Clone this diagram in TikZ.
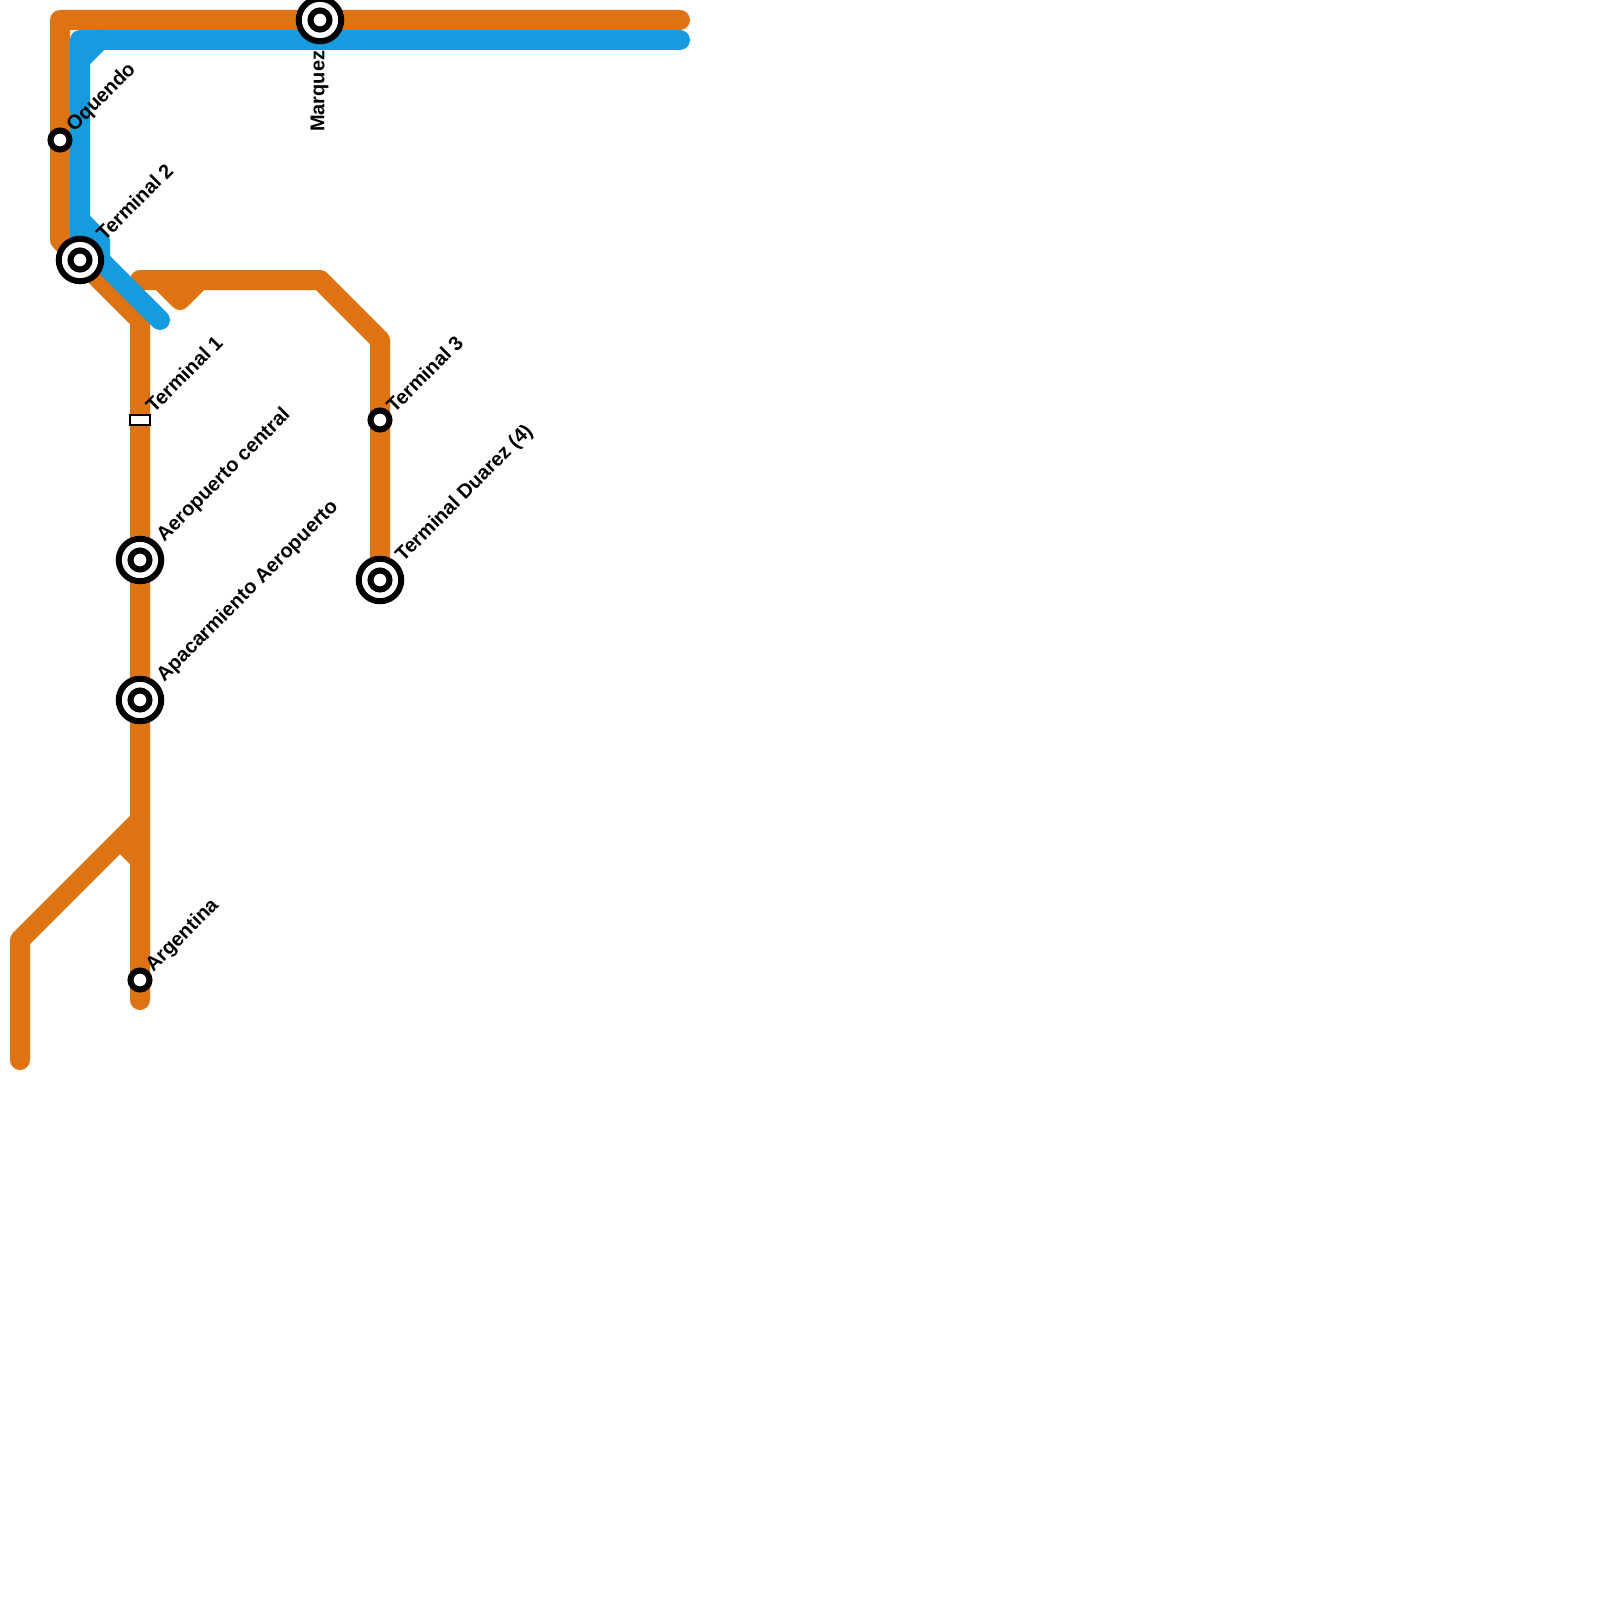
\documentclass[tikz,border=0pt]{standalone}
\usepackage{color}
\usepackage{fontspec}
\setmainfont{Liberation Sans}
\definecolor{lineorange}{HTML}{DD7312}
\definecolor{lineblue}{HTML}{169BDF}
\tikzset{
  orangeline/.style={draw=lineorange,line width=20pt,line cap=round,line join=round},
  blueline/.style={draw=lineblue,line width=20pt,line cap=round,line join=round},
  smallstop/.style={circle,draw=black,fill=white,line width=6pt,minimum size=19pt,inner sep=0pt,outer sep=0pt},
  bigstop/.style={circle,draw=black,fill=white,line width=6pt,minimum size=42.5pt,inner sep=0pt,outer sep=0pt},
  boxstop/.style={rectangle,draw=black,fill=white,line width=2pt,minimum width=20pt,minimum height=10pt,inner sep=0pt,outer sep=0pt},
  stoptext/.style={anchor=west,inner sep=0pt,font=\fontsize{20}{24}\selectfont\bfseries},
  stoplabel/.style={stoptext,rotate=45},
}
\begin{document}
\begin{tikzpicture}[x=1pt,y=-1pt]
\useasboundingbox (0,0) rectangle (1600,1600);
\fill[white] (0,0) rectangle (1600,1600);
% orange lines:
\path[orangeline] (680,20) -- (60,20) -- (60,240) -- (140,320) -- (140,1000);
\path[orangeline] (140,280) -- (320,280) -- (380,340) -- (380,580);
\path[orangeline] (160,280) -- (180,300) -- (200,280);
\path[orangeline] (20,1060) -- (20,940) -- (140,820);
\path[draw=lineorange,line width=20pt] (120,840) -- (140,860);
% blue line:
\path[blueline] (680,40) -- (80,40) -- (80,240) -- (160,320);
\path[blueline] (80,60) -- (100,40);
\path[draw=lineblue,line width=20pt,line join=round] (80,220) -- (100,240) -- (100,262);
% stops:
\node[smallstop] (oquendo) at (60,140) {};
\node[bigstop] (terminaltwo) at (80,260) {};
\node[smallstop] (terminaltwoinner) at (terminaltwo) {};
\node[bigstop] (marquez) at (320,20) {};
\node[smallstop] (marquezinner) at (marquez) {};
\node[boxstop] (terminalone) at (140,420) {};
\node[smallstop] (terminalthree) at (380,420) {};
\node[bigstop] (central) at (140,560) {};
\node[smallstop] (centralinner) at (central) {};
\node[bigstop] (apacar) at (140,700) {};
\node[smallstop] (apacarinner) at (apacar) {};
\node[bigstop] (duarez) at (380,580) {};
\node[smallstop] (duarezinner) at (duarez) {};
\node[smallstop] (argentina) at (140,980) {};
% labels:
\node[stoplabel] (oquendotext) at (70.5,129) {Oquendo};
\node[stoplabel] (terminaltwotext) at (99.5,237) {Terminal 2};
\node[stoptext,rotate=90] (marqueztext) at (319.5,132) {Marquez};
\node[stoplabel] (terminalonetext) at (149,409) {Terminal 1};
\node[stoplabel] (terminalthreetext) at (389.5,409) {Terminal 3};
\node[stoplabel] (centraltext) at (160.5,539) {Aeropuerto central};
\node[stoplabel] (apacartext) at (160.5,679) {Apacarmiento Aeropuerto};
\node[stoplabel] (duareztext) at (399.5,559) {Terminal Duarez (4)};
\node[stoplabel] (argentinatext) at (149.5,969) {Argentina};
\end{tikzpicture}
\end{document}
